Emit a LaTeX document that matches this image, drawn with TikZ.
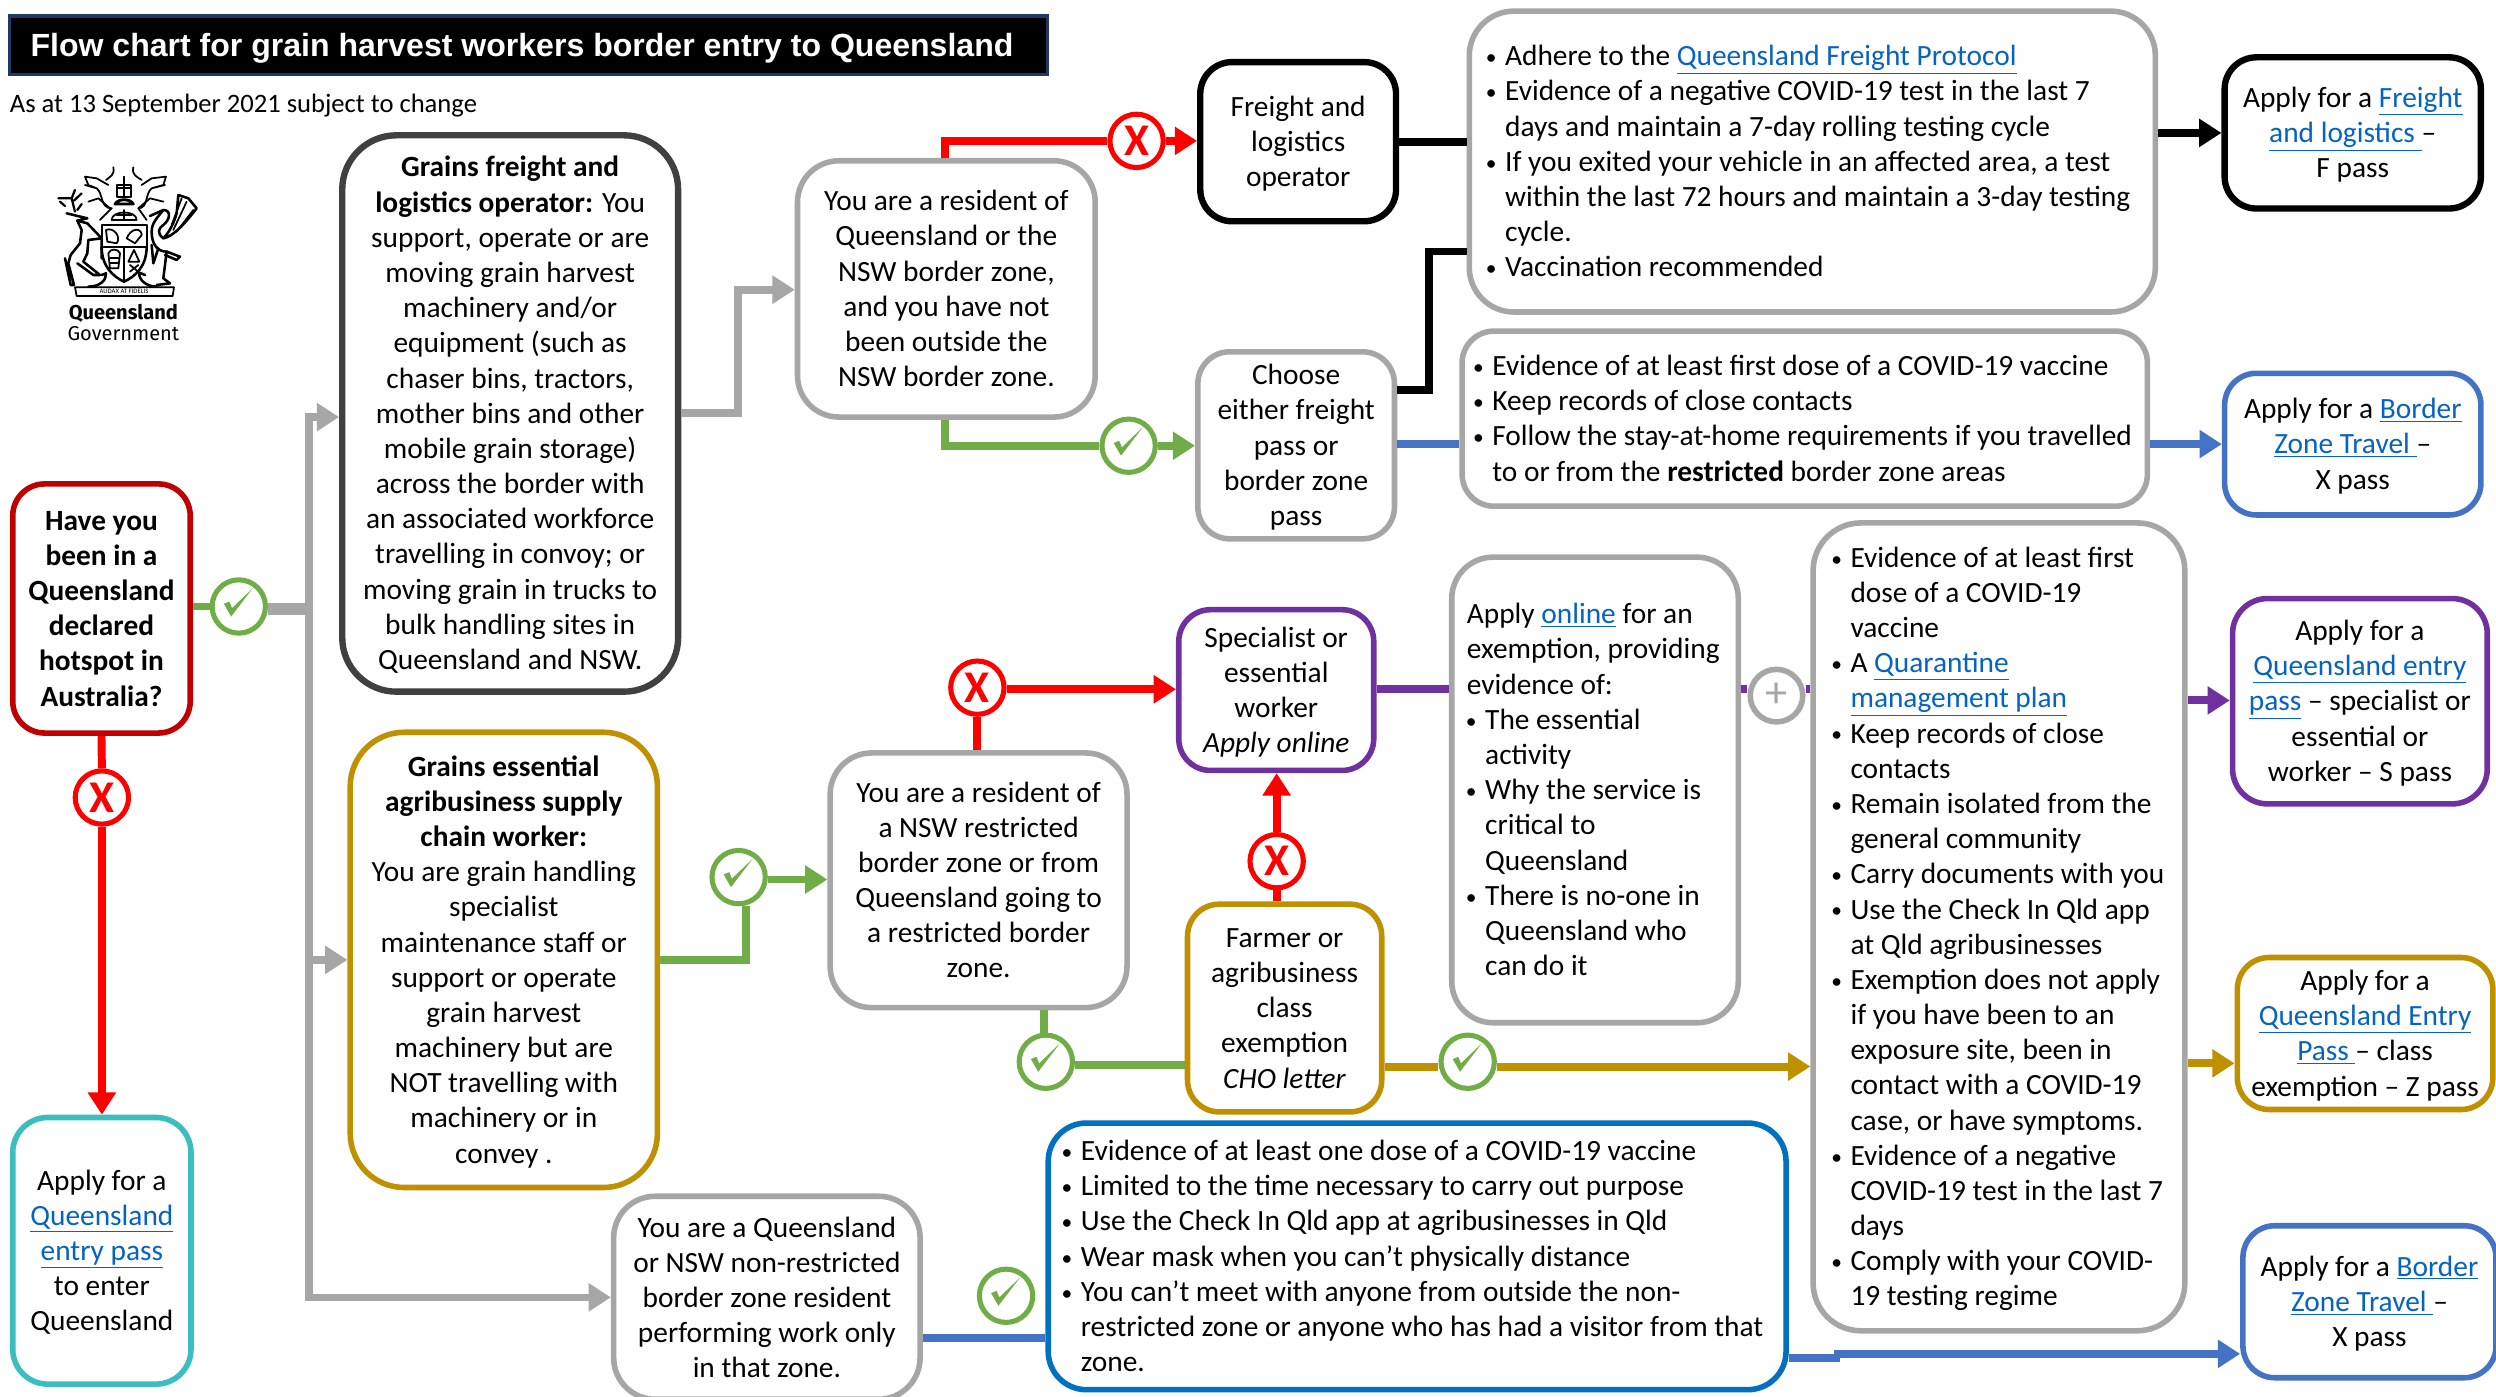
\documentclass[tikz,border=0pt]{standalone}
\usepackage{fontspec}
\setmainfont{Carlito}
\newfontfamily\titlefont{Liberation Sans}
\newfontfamily\logofont{Fira Sans}
\usetikzlibrary{arrows.meta}
\definecolor{cGrey}{HTML}{A6A6A6}
\definecolor{cDark}{HTML}{404040}
\definecolor{cRedDk}{HTML}{C00000}
\definecolor{cRed}{HTML}{FF0000}
\definecolor{cTeal}{HTML}{3CBEC0}
\definecolor{cGold}{HTML}{BF9000}
\definecolor{cGreen}{HTML}{70AD47}
\definecolor{cBlue}{HTML}{4472C4}
\definecolor{cBlueB}{HTML}{0070C0}
\definecolor{cPurple}{HTML}{7030A0}
\definecolor{cLink}{HTML}{0563C1}
\definecolor{cNavy}{HTML}{1F3864}
\newcommand{\lnk}[1]{\textcolor{cLink}{\underline{#1}}}
\newcommand{\bl}{\makebox[11.5pt][l]{\hspace*{-0.6pt}\raisebox{0.7pt}{\fontsize{13.5pt}{13.5pt}\selectfont •}}}
\newcommand{\ct}{\hspace*{11.5pt}}
\newsavebox{\dnbox}
\newcommand{\dn}[1]{\sbox{\dnbox}{#1}\rule{0pt}{\dimexpr\ht\dnbox+3.4pt\relax}\usebox{\dnbox}}
\newcommand{\BXC}[7]{%
  \node[bx,#6,minimum width={(#4-#2)*1pt},minimum height={(#5-#3)*1pt}] (#1)
    at ({(#2+#4)/2},{(#3+#5)/2}) {\dn{\begin{tabular}{@{}c@{}}#7\end{tabular}}};}
\newcommand{\BXL}[8]{%
  \pgfmathsetlengthmacro{\tw}{(#4-#2)*1pt}%
  \node[bx,#6,minimum width={(#4-#2)*1pt},minimum height={(#5-#3)*1pt}] (#1)
    at ({(#2+#4)/2},{(#3+#5)/2}) {\makebox[\tw][l]{\hspace*{#7pt}\dn{\begin{tabular}{@{}l@{}}#8\end{tabular}}}};}
\newcommand{\OK}[2]{%
  \node[okc] (#1) at (#2) {};
  \fill[cGreen] ([shift={(-9.4,-1.7)}]#1.center) -- ([shift={(-5.9,-3.1)}]#1.center) -- ([shift={(-4.2,1)}]#1.center) -- ([shift={(8.8,-11.5)}]#1.center) -- ([shift={(-4.8,6.3)}]#1.center) -- cycle;}
\tikzset{
  bx/.style={rectangle,fill=white,line width=3.5pt,inner sep=0pt,font=\fontsize{18.45pt}{22.1pt}\selectfont},
  okc/.style={circle,draw=cGreen,fill=white,line width=3.2pt,minimum size=33.5pt,inner sep=0pt},
  noc/.style={circle,draw=cRed,fill=white,line width=3.2pt,minimum size=33.5pt,inner sep=0pt,text=cRed,font=\bfseries\fontsize{28.5pt}{28.5pt}\selectfont},
  plc/.style={circle,draw=cGrey,fill=white,line width=3.5pt,minimum size=33pt,inner sep=0pt,text=cGrey,font=\fontsize{28pt}{28pt}\selectfont},
  conn/.style={line width=5pt,line join=miter},
  arr/.style={-{Triangle[length=14pt,width=17pt]}},
  crest/.style={draw=black,line width=1.1pt,line join=round,line cap=round}
}
\begin{document}
\begin{tikzpicture}[x=1pt,y=-1pt]
\useasboundingbox (0,0) rectangle (1568,877.6);
\fill[white] (0,0) rectangle (1568,877.6);
% title
\node[rectangle,draw=cNavy,fill=black,line width=2pt,minimum width=652pt,minimum height=37pt,inner sep=0pt] (title) at (332,28.5) {};
\node[anchor=west,inner sep=0pt,text=white,font=\titlefont\bfseries\fontsize{20.13pt}{24pt}\selectfont] (titletext) at (19,30.5) {Flow chart for grain harvest workers border entry to Queensland};
\node[anchor=base west,inner sep=0pt,font=\fontsize{16.7pt}{20pt}\selectfont] (asat) at (6,70.5) {As at 13 September 2021 subject to change};
% logo
\begin{scope}[x=0.2094pt,y=-0.2094pt,yshift=-81.66pt]
 \draw[crest] (305,285)--(440,285)--(440,350)--(305,350)--cycle;
 \draw[crest,line width=1.6pt] (305,350) .. controls (305,410) and (340,440) .. (372,455) .. controls (405,440) and (440,410) .. (440,350);
 \draw[crest] (372,350)--(372,455);
 \draw[crest] (318,300) .. controls (340,290) and (365,320) .. (350,340) -- (322,335) --cycle;
 \draw[crest] (380,325) .. controls (395,290) and (425,295) .. (425,315) -- (405,340) --cycle;
 \draw[crest] (325,370) .. controls (330,355) and (355,355) .. (360,370) -- (355,415) -- (330,415) --cycle;
 \draw[crest] (330,385)--(355,385) (330,400)--(355,400);
 \draw[crest] (385,395) -- (402,360) -- (418,395) --cycle;
 \draw[crest] (390,405)--(415,425) (415,405)--(390,425);
 % helm and crown
 \draw[crest] (335,270) .. controls (335,240) and (410,240) .. (410,270) --cycle;
 \draw[crest] (372,240)--(372,270) (350,255)--(395,255);
 \draw[crest,line width=1.8pt] (345,222) .. controls (355,205) and (390,205) .. (400,222) --cycle;
 \draw[crest] (352,200)--(352,165)--(392,165)--(392,200)--cycle (372,140)--(372,200) (352,175)--(392,175);
 \draw[crest] (340,112) .. controls (345,135) and (330,140) .. (318,150) (400,112) .. controls (395,135) and (410,140) .. (425,150);
 % mantling
 \draw[crest] (335,235) .. controls (300,235) and (310,190) .. (290,175) -- (265,165) -- (255,140) -- (290,145) -- (325,165) (290,175) -- (255,165);
 \draw[crest] (265,215) -- (295,205) -- (330,235) (300,270) -- (335,235);
 \draw[crest] (415,235) .. controls (445,235) and (435,190) .. (455,175) -- (490,165) -- (498,140) -- (455,145) -- (425,165) (455,175) -- (495,165);
 \draw[crest] (490,215) -- (450,205) -- (415,235) (440,270) -- (415,235);
 % stag
 \draw[crest,line width=1.4pt] (225,245) -- (215,205) -- (175,205) (195,228) -- (180,215) (215,205) -- (225,180) (222,212) -- (245,190) (232,240) -- (245,222);
 \draw[crest,line width=1.6pt] (200,250) -- (262,265) -- (232,272) -- (245,300) -- (240,340) -- (212,375) -- (205,400) -- (222,465) -- (212,465) -- (195,385);
 \draw[crest,line width=1.6pt] (262,280) -- (305,325) -- (265,330) -- (262,370) -- (250,395) -- (300,435) -- (280,435) -- (232,400);
 \draw[crest,line width=1.6pt] (232,272) -- (262,280) (305,325) -- (305,385);
 % brolga
 \draw[crest,line width=1.6pt] (450,258) -- (490,240) .. controls (515,240) and (510,270) .. (490,285) .. controls (475,295) and (470,310) .. (490,325);
 \draw[crest,line width=1.6pt] (490,240) .. controls (470,265) and (455,280) .. (455,305) .. controls (455,340) and (470,365) .. (500,365) -- (490,445) -- (510,460) -- (470,465);
 \draw[crest,line width=1.6pt] (490,325) .. controls (520,320) and (555,280) .. (590,235) -- (565,205) -- (535,195) -- (530,250) .. controls (520,285) and (505,310) .. (490,325);
 \draw[crest] (560,215)--(520,300) (580,240)--(530,305) (545,205)--(515,285);
 \draw[crest,line width=1.6pt] (500,365) -- (540,380) -- (530,390) -- (495,375);
 \draw[crest,line width=1.6pt] (455,345) -- (460,400) -- (475,355);
 % scroll feet
 \draw[crest,line width=1.6pt] (265,470) .. controls (300,470) and (320,450) .. (318,430) -- (305,435) (470,470) .. controls (440,470) and (415,450) .. (418,428) -- (435,435);
 % ribbon
 \draw[crest] (225,472)--(522,472)--(518,498)--(230,498)--cycle;
 \node[inner sep=0pt,font=\fontsize{4.2pt}{5pt}\selectfont] (motto) at (372,485) {AUDAX AT FIDELIS};
\end{scope}
\node[anchor=base,inner sep=0pt,font=\logofont\bfseries\fontsize{12.6pt}{14pt}\selectfont] (qld) at (77.5,200.5) {Queensland};
\node[anchor=base,inner sep=0pt,font=\logofont\fontsize{12.6pt}{14pt}\selectfont] (gov) at (77.5,214) {Government};

% boxes
\BXC{qbox}{8}{304}{119.5}{460.5}{draw=cRedDk,rounded corners=20pt}{\textbf{Have you}\\\textbf{been in a}\\\textbf{Queensland}\\\textbf{declared}\\\textbf{hotspot in}\\\textbf{Australia?}}
\BXC{tealb}{8}{702}{120}{869.5}{draw=cTeal,rounded corners=22pt}{Apply for a\\\lnk{Queensland}\\\lnk{entry pass}\\to enter\\Queensland}
\BXC{fbox}{215}{85}{426}{434.5}{draw=cDark,line width=4pt,rounded corners=34pt}{\textbf{Grains freight and}\\\textbf{logistics operator:} You\\support, operate or are\\moving grain harvest\\machinery and/or\\equipment (such as\\chaser bins, tractors,\\mother bins and other\\mobile grain storage)\\across the border with\\an associated workforce\\travelling in convoy; or\\moving grain in trucks to\\bulk handling sites in\\Queensland and NSW.}
\BXC{gbox}{220}{460}{413}{746}{draw=cGold,rounded corners=34pt}{\textbf{Grains essential}\\\textbf{agribusiness supply}\\\textbf{chain worker:}\\You are grain handling\\specialist\\maintenance staff or\\support or operate\\grain harvest\\machinery but are\\NOT travelling with\\machinery or in\\convey .}
\BXC{resa}{501}{101}{688}{262}{draw=cGrey,rounded corners=26pt}{You are a resident of\\Queensland or the\\NSW border zone,\\and you have not\\been outside the\\NSW border zone.}
\BXC{fop}{754}{39}{877}{139}{draw=black,line width=4pt,rounded corners=20pt}{Freight and\\logistics\\operator}
\BXC{choose}{752.5}{221}{876}{338.5}{draw=cGrey,rounded corners=20pt}{Choose\\either freight\\pass or\\border zone\\pass}
\BXL{top}{923}{7}{1354}{196}{draw=cGrey,rounded corners=28pt}{11}{\bl Adhere to the \lnk{Queensland Freight Protocol}\\\bl Evidence of a negative COVID-19 test in the last 7\\\ct days and maintain a 7-day rolling testing cycle\\\bl If you exited your vehicle in an affected area, a test\\\ct within the last 72 hours and maintain a 3-day testing\\\ct cycle.\\\bl Vaccination recommended}
\BXL{mid}{918.5}{208}{1349}{318}{draw=cGrey,rounded corners=20pt}{7.5}{\bl Evidence of at least first dose of a COVID-19 vaccine\\\bl Keep records of close contacts\\\bl Follow the stay-at-home requirements if you travelled\\\ct to or from the \textbf{restricted} border zone areas}
\BXC{afl}{1397.5}{36}{1558.5}{131}{draw=black,line width=4pt,rounded corners=20pt}{Apply for a \lnk{Freight}\\\lnk{and logistics\ }–\\F pass}
\BXC{abz}{1397.5}{234.5}{1558.5}{323.5}{draw=cBlue,rounded corners=20pt}{Apply for a \lnk{Border}\\\lnk{Zone Travel\ }–\\X pass}
\BXC{spec}{740.5}{383}{863}{484}{draw=cPurple,rounded corners=20pt}{Specialist or\\essential\\worker\\\textit{Apply online}}
\BXL{exem}{912}{350}{1092}{642.5}{draw=cGrey,rounded corners=26pt}{9.5}{Apply \lnk{online} for an\\exemption, providing\\evidence of:\\\bl The essential\\\ct activity\\\bl Why the service is\\\ct critical to\\\ct Queensland\\\bl There is no-one in\\\ct Queensland who\\\ct can do it}
\BXL{big}{1139}{328.5}{1372.5}{836}{draw=cGrey,rounded corners=30pt}{12}{\bl Evidence of at least first\\\ct dose of a COVID-19\\\ct vaccine\\\bl A \lnk{Quarantine}\\\ct\lnk{management plan}\\\bl Keep records of close\\\ct contacts\\\bl Remain isolated from the\\\ct general community\\\bl Carry documents with you\\\bl Use the Check In Qld app\\\ct at Qld agribusinesses\\\bl Exemption does not apply\\\ct if you have been to an\\\ct exposure site, been in\\\ct contact with a COVID-19\\\ct case, or have symptoms.\\\bl Evidence of a negative\\\ct COVID-19 test in the last 7\\\ct days\\\bl Comply with your COVID-\\\ct 19 testing regime}
\BXC{asp}{1402.5}{376}{1562.5}{505}{draw=cPurple,rounded corners=22pt}{Apply for a\\\lnk{Queensland entry}\\\lnk{pass} – specialist or\\essential or\\worker – S pass}
\BXC{azp}{1405.5}{601.5}{1566}{697}{draw=cGold,rounded corners=20pt}{Apply for a\\\lnk{Queensland Entry}\\\lnk{Pass\ }– class\\exemption – Z pass}
\BXC{abz2}{1409}{770}{1568}{865.5}{draw=cBlue,rounded corners=20pt}{Apply for a \lnk{Border}\\\lnk{Zone Travel\ }–\\X pass}
\BXC{resb}{521.5}{473}{708}{633}{draw=cGrey,rounded corners=26pt}{You are a resident of\\a NSW restricted\\border zone or from\\Queensland going to\\a restricted border\\zone.}
\BXC{farm}{746}{568}{868}{698.5}{draw=cGold,rounded corners=20pt}{Farmer or\\agribusiness\\class\\exemption\\\textit{CHO letter}}
\BXC{qnsw}{385.5}{751.5}{578}{879}{draw=cGrey,rounded corners=26pt}{You are a Queensland\\or NSW non-restricted\\border zone resident\\performing work only\\in that zone.}
\BXL{blu}{658.5}{705.5}{1122}{873}{draw=cBlueB,rounded corners=24pt}{9}{\bl Evidence of at least one dose of a COVID-19 vaccine\\\bl Limited to the time necessary to carry out purpose\\\bl Use the Check In Qld app at agribusinesses in Qld\\\bl Wear mask when you can’t physically distance\\\bl You can’t meet with anyone from outside the non-\\\ct restricted zone or anyone who has had a visitor from that\\\ct zone.}

% status circles
\OK{ok1}{150,381}
\node[noc] (no1) at (64,501) {X};
\node[noc] (no2) at (714,88.5) {X};
\OK{ok2}{709,280}
\OK{ok3}{464,551}
\node[noc] (no3) at (614,432) {X};
\OK{ok4}{657,667}
\node[noc] (no4) at (802,541) {X};
\OK{ok5}{922,667}
\OK{ok6}{632,814}
\node[plc] (plus) at (1116,437) {+};

% trunk
\coordinate (trunk) at (194,382.5);
\coordinate (trunkend) at (196.4,382.5);
\draw[conn,cRed] (qbox.south) -- (no1.north);
\draw[conn,cRed,arr] (no1.south) -- (tealb.north);
\draw[conn,cGreen] (qbox.east |- ok1.west) -- (ok1.west);
\draw[conn,cGrey,line width=8pt] (ok1.east |- trunkend) -- (trunkend);
\draw[conn,cGrey,line width=4.8pt,arr] (trunk) |- (fbox.west |- 0,262);
\draw[conn,cGrey,line width=4.8pt,arr] (trunk) |- (gbox.west |- 0,603);
\draw[conn,cGrey,line width=4.8pt,arr] (trunk) |- (qnsw.west |- 0,815);
% upper row
\coordinate (elbow1) at (463.5,259.5);
\coordinate (elbow2) at (463.5,182);
\draw[conn,cGrey,arr] (fbox.east |- elbow1) -- (elbow1) -- (elbow2) -- (resa.west |- elbow2);
\draw[conn,cRed] (593.5,0 |- resa.north) |- (no2.west);
\draw[conn,cRed,arr] (no2.east) -- (fop.west |- no2.east);
\draw[conn,cGreen] (593.5,0 |- resa.south) |- (ok2.west);
\draw[conn,cGreen,arr] (ok2.east) -- (choose.west |- ok2.east);
\draw[conn,black] (fop.east |- 0,89) -- (top.west |- 0,89);
\coordinate (elbow3) at (897.5,245);
\coordinate (elbow4) at (897.5,158);
\draw[conn,black] (choose.east |- elbow3) -- (elbow3) -- (elbow4) -- (top.west |- elbow4);
\draw[conn,cBlue] (choose.east |- 0,279) -- (mid.west |- 0,279);
\draw[conn,black,arr] (top.east |- afl.west) -- (afl.west);
\draw[conn,cBlue,arr] (mid.east |- 0,279) -- (abz.west |- 0,279);
% middle row
\coordinate (elbow5) at (468.5,603);
\draw[conn,cGreen] (gbox.east |- elbow5) -- (elbow5) -- (elbow5 |- ok3.south);
\draw[conn,cGreen,arr] (ok3.east |- 0,552.5) -- (resb.west |- 0,552.5);
\draw[conn,cRed] (614,0 |- resb.north) -- (no3.south);
\draw[conn,cRed,arr] (no3.east |- 0,433) -- (spec.west |- 0,433);
\draw[conn,cGreen] (656,0 |- resb.south) -- (656,0 |- ok4.north);
\draw[conn,cGreen] (ok4.east |- 0,669) -- (farm.west |- 0,669);
\draw[conn,cRed] (802,0 |- farm.north) -- (no4.south);
\draw[conn,cRed,arr] (no4.north) -- (802,0 |- spec.south);
\draw[conn,cPurple] (spec.east |- 0,433) -- (exem.west |- 0,433);
\draw[conn,cPurple] (exem.east |- 0,433) -- (plus.west |- 0,433);
\draw[conn,cPurple] (plus.east |- 0,433) -- (big.west |- 0,433);
\draw[conn,cPurple,arr] (big.east |- 0,440) -- (asp.west |- 0,440);
\draw[conn,cGold] (farm.east |- 0,670) -- (ok5.west |- 0,670);
\draw[conn,cGold,arr] (ok5.east |- 0,670) -- (big.west |- 0,670);
\draw[conn,cGold,arr] (big.east |- 0,668) -- (azp.west |- 0,668);
% bottom row
\draw[conn,cBlue] (qnsw.east |- 0,840.5) -- (blu.west |- 0,840.5);
\coordinate (stepa) at (1156,853);
\coordinate (stepb) at (1152,850.5);
\draw[conn,cBlue] (blu.east |- stepa) -- (stepa);
\draw[conn,cBlue,arr] (stepb) -- (abz2.west |- stepb);
\end{tikzpicture}
\end{document}
